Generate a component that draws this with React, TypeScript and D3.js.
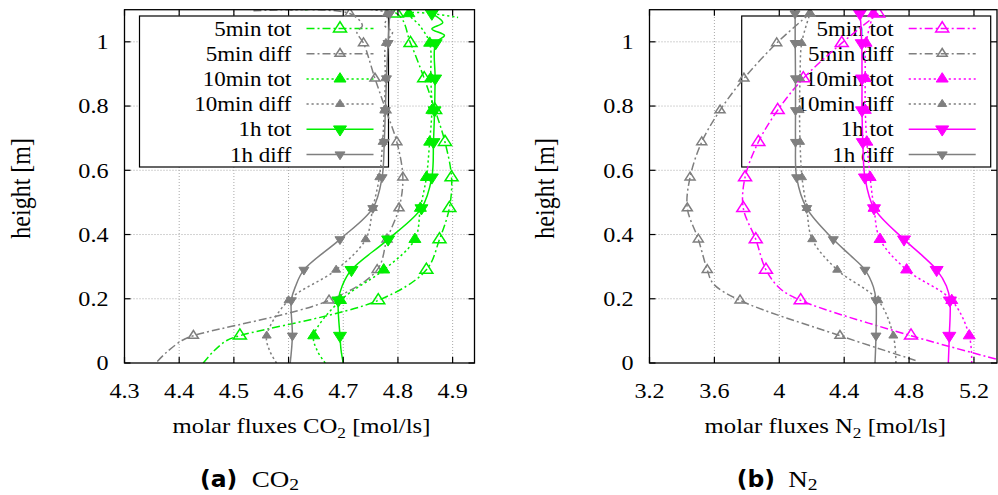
import React from "react";
import * as d3 from "d3";

type P = [number, number];

// ---------------- data ----------------
const MARKER_HEIGHTS = [0.085, 0.195, 0.29, 0.385, 0.482, 0.578, 0.688, 0.787, 0.886, 0.996, 1.088];
const SERIES_LABELS = ["5min tot", "5min diff", "10min tot", "10min diff", "1h tot", "1h diff"];
const Y_TICKS = [0, 0.2, 0.4, 0.6, 0.8, 1];
const CO2_X_TICKS = [4.3, 4.4, 4.5, 4.6, 4.7, 4.8, 4.9];
const N2_X_TICKS = [3.2, 3.6, 4, 4.4, 4.8, 5.2];

// CO2 panel: [flux, height]
const CO2_5MIN_TOT: P[] = [
  [4.444, 0], [4.462, 0.035], [4.487, 0.07], [4.511, 0.085], [4.764, 0.195], [4.852, 0.29],
  [4.876, 0.385], [4.894, 0.482], [4.898, 0.578], [4.886, 0.688], [4.868, 0.787], [4.848, 0.886],
  [4.823, 0.996], [4.798, 1.088], [4.63, 1.1],
];
const CO2_5MIN_DIFF: P[] = [
  [4.36, 0.005], [4.378, 0.035], [4.405, 0.07], [4.426, 0.085], [4.674, 0.195], [4.762, 0.29],
  [4.78, 0.385], [4.802, 0.482], [4.809, 0.578], [4.798, 0.688], [4.778, 0.787], [4.758, 0.886],
  [4.737, 0.996], [4.725, 1.03], [4.735, 1.05], [4.712, 1.088], [4.53, 1.096],
];
const CO2_10MIN_TOT: P[] = [
  [4.667, 0], [4.652, 0.04], [4.646, 0.085], [4.695, 0.195], [4.774, 0.29], [4.831, 0.385],
  [4.841, 0.482], [4.852, 0.578], [4.858, 0.688], [4.862, 0.787], [4.86, 0.886], [4.858, 0.996],
  [4.84, 1.05], [4.82, 1.088], [4.91, 1.076],
];
const CO2_10MIN_DIFF: P[] = [
  [4.578, 0], [4.565, 0.04], [4.56, 0.085], [4.6, 0.195], [4.687, 0.29], [4.741, 0.385],
  [4.754, 0.482], [4.766, 0.578], [4.772, 0.688], [4.775, 0.787], [4.777, 0.886], [4.778, 0.996],
  [4.79, 1.03], [4.776, 1.05], [4.78, 1.088], [4.6, 1.098],
];
const CO2_1H_TOT: P[] = [
  [4.7, 0], [4.696, 0.04], [4.694, 0.085], [4.691, 0.195], [4.698, 0.24], [4.715, 0.29],
  [4.782, 0.385], [4.843, 0.482], [4.862, 0.578], [4.865, 0.688], [4.867, 0.787], [4.868, 0.886],
  [4.869, 0.996], [4.885, 1.02], [4.862, 1.04], [4.882, 1.06], [4.862, 1.088],
];
const CO2_1H_DIFF: P[] = [
  [4.603, 0], [4.607, 0.085], [4.605, 0.195], [4.613, 0.24], [4.628, 0.29], [4.694, 0.385],
  [4.754, 0.482], [4.771, 0.578], [4.775, 0.688], [4.777, 0.787], [4.779, 0.886], [4.782, 0.996],
  [4.785, 1.088],
];

// N2 panel: [flux, height]
const N2_5MIN_TOT: P[] = [
  [5.43, 0], [4.812, 0.085], [4.132, 0.195], [4.004, 0.232], [3.918, 0.29], [3.855, 0.385],
  [3.778, 0.482], [3.789, 0.578], [3.871, 0.688], [3.99, 0.787], [4.148, 0.886], [4.385, 0.996],
  [4.61, 1.088],
];
const N2_5MIN_DIFF: P[] = [
  [4.84, 0.008], [4.374, 0.085], [3.758, 0.195], [3.593, 0.247], [3.556, 0.29], [3.501, 0.385],
  [3.433, 0.482], [3.45, 0.578], [3.522, 0.688], [3.635, 0.787], [3.782, 0.886], [3.984, 0.996],
  [4.189, 1.088],
];
const N2_10MIN_TOT: P[] = [
  [5.186, 0], [5.171, 0.085], [5.063, 0.195], [4.785, 0.29], [4.621, 0.385], [4.584, 0.482],
  [4.56, 0.578], [4.54, 0.688], [4.53, 0.787], [4.53, 0.886], [4.535, 0.996], [4.58, 1.088],
];
const N2_10MIN_DIFF: P[] = [
  [4.719, 0], [4.703, 0.085], [4.61, 0.195], [4.357, 0.29], [4.203, 0.385], [4.169, 0.482],
  [4.14, 0.578], [4.128, 0.688], [4.125, 0.787], [4.128, 0.886], [4.138, 0.996], [4.19, 1.088],
];
const N2_1H_TOT: P[] = [
  [5.042, 0], [5.048, 0.085], [5.052, 0.195], [5.03, 0.24], [4.97, 0.29], [4.88, 0.335],
  [4.769, 0.385], [4.584, 0.482], [4.528, 0.578], [4.515, 0.688], [4.51, 0.787], [4.51, 0.886],
  [4.508, 0.996], [4.497, 1.088], [4.49, 1.1],
];
const N2_1H_DIFF: P[] = [
  [4.59, 0], [4.596, 0.085], [4.596, 0.195], [4.58, 0.237], [4.528, 0.29], [4.436, 0.336],
  [4.333, 0.385], [4.169, 0.482], [4.107, 0.578], [4.1, 0.688], [4.1, 0.787], [4.1, 0.886],
  [4.098, 0.996], [4.097, 1.088], [4.095, 1.1],
];

// ---------------- styles ----------------
const GREEN = "#00ee00";
const MAGENTA = "#ff00ff";
const GREY = "#7f7f7f";
const SERIF = "'Liberation Serif', 'Times New Roman', serif";
const SANS = "'DejaVu Sans', sans-serif";
const SX = 1.15;

type Style = { accent: boolean; dash: string | null; down: boolean; open: boolean; w: number };
const STYLES: Style[] = [
  { accent: true, dash: "8,3,2,3", down: false, open: true, w: 13 },
  { accent: false, dash: "8,3,2,3", down: false, open: true, w: 10 },
  { accent: true, dash: "2.2,2.8", down: false, open: false, w: 12 },
  { accent: false, dash: "2.2,2.8", down: false, open: false, w: 9 },
  { accent: true, dash: null, down: true, open: false, w: 13 },
  { accent: false, dash: null, down: true, open: false, w: 10 },
];

function triPath(w: number, down: boolean) {
  const h = w * 0.78;
  const a = down ? -1 : 1;
  return `M0,${(-a * 2 * h) / 3}L${w / 2},${(a * h) / 3}L${-w / 2},${(a * h) / 3}Z`;
}

function Marker({ x, y, s, color }: { x: number; y: number; s: Style; color: string }) {
  return (
    <path
      d={triPath(s.w, s.down)}
      transform={`translate(${x},${y})`}
      fill={s.open ? "none" : color}
      stroke={color}
      strokeWidth={s.open ? 1.5 : 1}
      strokeLinejoin="miter"
    />
  );
}

function T(props: {
  x: number; y: number; size: number; anchor?: string; family?: string; weight?: number;
  rotate?: boolean; sx?: number; children: React.ReactNode;
}) {
  const { x, y, size, anchor = "start", family = SERIF, weight = 400, rotate, sx = SX, children } = props;
  return (
    <text
      transform={`translate(${x},${y}) scale(${sx},1)${rotate ? " rotate(-90)" : ""}`}
      fontFamily={family}
      fontSize={size}
      fontWeight={weight}
      textAnchor={anchor}
      fill="#000"
    >
      {children}
    </text>
  );
}

const Y0 = 363;
const Y1 = 9.7;
const yScale = d3.scaleLinear().domain([0, 1.1]).range([Y0, Y1]);

type PanelProps = {
  id: string;
  xDomain: [number, number];
  xRange: [number, number];
  xTicks: number[];
  series: P[][];
  accent: string;
  legendX: number;
  gas: string;
  yLabelX: number;
  capLetter: string;
  capX: number;
  capGasX: number;
};

function Panel(p: PanelProps) {
  const x = d3.scaleLinear().domain(p.xDomain).range(p.xRange);
  const [L, R] = p.xRange;
  const line = d3
    .line<P>()
    .x((d) => x(d[0]))
    .y((d) => yScale(d[1]))
    .curve(d3.curveCatmullRom.alpha(0.5));
  const tick = 6;
  const legTop = 16;
  const legW = 249;
  const legH = 151;
  const rowY = (i: number) => legTop + 12.5 + i * 25.2;
  const isMarker = (h: number) => MARKER_HEIGHTS.some((m) => Math.abs(m - h) < 1e-9);
  const midX = (L + R) / 2;

  return (
    <g>
      <defs>
        <clipPath id={p.id}>
          <rect x={L} y={Y1} width={R - L} height={Y0 - Y1} />
        </clipPath>
      </defs>
      {/* grid */}
      <g stroke="#a8a8a8" strokeWidth={1} strokeDasharray="1,2">
        {p.xTicks.filter((t) => Math.abs(x(t) - L) > 1).map((t) => (
          <line key={"gx" + t} x1={x(t)} x2={x(t)} y1={Y0} y2={Y1} />
        ))}
        {Y_TICKS.filter((t) => t > 0).map((t) => (
          <line key={"gy" + t} x1={L} x2={R} y1={yScale(t)} y2={yScale(t)} />
        ))}
      </g>
      {/* legend */}
      <rect x={p.legendX} y={legTop} width={legW} height={legH} fill="#fff" stroke="#000" strokeWidth={1.2} />
      {SERIES_LABELS.map((lab, i) => {
        const s = STYLES[i];
        const c = s.accent ? p.accent : GREY;
        const yy = rowY(i);
        return (
          <g key={"leg" + i}>
            <T x={p.legendX + 152} y={yy + 7} size={20} anchor="end">{lab}</T>
            <line
              x1={p.legendX + 167}
              x2={p.legendX + 234}
              y1={yy}
              y2={yy}
              stroke={c}
              strokeWidth={1.5}
              strokeDasharray={s.dash ?? undefined}
            />
            <Marker x={p.legendX + 200.5} y={yy} s={s} color={c} />
          </g>
        );
      })}
      {/* data */}
      <g clipPath={`url(#${p.id})`}>
        {p.series.map((ser, i) => {
          const s = STYLES[i];
          const c = s.accent ? p.accent : GREY;
          return (
            <g key={"s" + i}>
              <path d={line(ser) ?? ""} fill="none" stroke={c} strokeWidth={1.5} strokeDasharray={s.dash ?? undefined} />
              {ser.filter((d) => isMarker(d[1])).map((d, j) => (
                <Marker key={j} x={x(d[0])} y={yScale(d[1])} s={s} color={c} />
              ))}
            </g>
          );
        })}
      </g>
      {/* frame */}
      <rect x={L} y={Y1} width={R - L} height={Y0 - Y1} fill="none" stroke="#000" strokeWidth={1.3} />
      <g stroke="#000" strokeWidth={1.2}>
        {p.xTicks.map((t) => (
          <g key={"tx" + t}>
            <line x1={x(t)} x2={x(t)} y1={Y0} y2={Y0 - tick} />
            <line x1={x(t)} x2={x(t)} y1={Y1} y2={Y1 + tick} />
          </g>
        ))}
        {Y_TICKS.map((t) => (
          <g key={"ty" + t}>
            <line x1={L} x2={L + tick} y1={yScale(t)} y2={yScale(t)} />
            <line x1={R} x2={R - tick} y1={yScale(t)} y2={yScale(t)} />
          </g>
        ))}
      </g>
      {p.xTicks.map((t) => (
        <T key={"lx" + t} x={x(t)} y={397.5} size={21} anchor="middle">{String(t)}</T>
      ))}
      {Y_TICKS.map((t) => (
        <T key={"ly" + t} x={L - 16} y={yScale(t) + 7.3} size={21} anchor="end">{String(t)}</T>
      ))}
      {/* axis titles */}
      <T x={midX + 2} y={433} size={21.5} anchor="middle">
        {"molar fluxes " + p.gas}
        <tspan dy={5} fontSize={15}>2</tspan>
        <tspan dy={-5}>{" [mol/ls]"}</tspan>
      </T>
      <T x={p.yLabelX} y={(Y0 + Y1) / 2 + 2} size={24} anchor="middle" rotate>height [m]</T>
      {/* caption */}
      <T x={p.capX} y={487} size={23} family={SANS} weight={700} sx={1.02}>{`(${p.capLetter})`}</T>
      <T x={p.capGasX} y={487} size={23.5}>
        {p.gas}
        <tspan dy={3} fontSize={17}>2</tspan>
      </T>
    </g>
  );
}

export default function App() {
  return (
    <svg width={998} height={495} style={{ position: "absolute", left: 0, top: 0, background: "#fff" }}>
      <rect width={998} height={495} fill="#fff" />
      <Panel
        id="clipCO2"
        xDomain={[4.3, 4.94]}
        xRange={[124.5, 474.5]}
        xTicks={CO2_X_TICKS}
        series={[CO2_5MIN_TOT, CO2_5MIN_DIFF, CO2_10MIN_TOT, CO2_10MIN_DIFF, CO2_1H_TOT, CO2_1H_DIFF]}
        accent={GREEN}
        legendX={139.5}
        gas="CO"
        yLabelX={30}
        capLetter="a"
        capX={200}
        capGasX={251.7}
      />
      <Panel
        id="clipN2"
        xDomain={[3.2, 5.342]}
        xRange={[649.5, 997]}
        xTicks={N2_X_TICKS}
        series={[N2_5MIN_TOT, N2_5MIN_DIFF, N2_10MIN_TOT, N2_10MIN_DIFF, N2_1H_TOT, N2_1H_DIFF]}
        accent={MAGENTA}
        legendX={741.7}
        gas="N"
        yLabelX={554}
        capLetter="b"
        capX={736.7}
        capGasX={788.3}
      />
    </svg>
  );
}
